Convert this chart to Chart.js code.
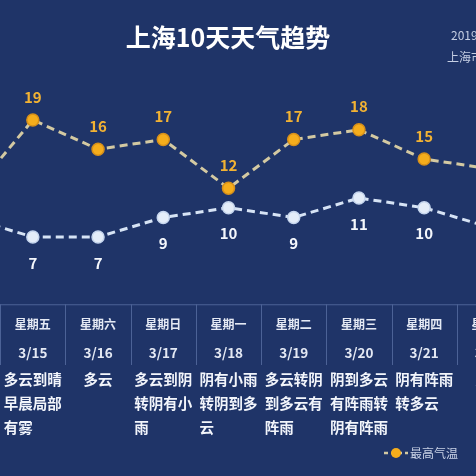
<!DOCTYPE html>
<html>
<head>
<meta charset="utf-8">
<script src="https://cdn.jsdelivr.net/npm/chart.js@4.4.1/dist/chart.umd.min.js"></script>
<style>
  html, body { margin:0; padding:0; width:476px; height:476px; overflow:hidden; background:#1f3468; }
  #wrap { position:relative; width:476px; height:476px; overflow:hidden; }
  #c { position:absolute; left:-65px; top:0; }
</style>
</head>
<body>
<div id="wrap"><canvas id="c" width="600" height="476"></canvas></div>
<script>
const dates = ['3/14','3/15','3/16','3/17','3/18','3/19','3/20','3/21','3/22'];
const weekdays = ['星期四','星期五','星期六','星期日','星期一','星期二','星期三','星期四','星期五'];
const highTemps = [11, 19, 16, 17, 12, 17, 18, 15, 14];
const lowTemps = [9, 7, 7, 9, 10, 9, 11, 10, 8];
const weather = ['多云','多云到晴早晨局部有雾','多云','多云到阴转阴有小雨','阴有小雨转阴到多云','多云转阴到多云有阵雨','阴到多云有阵雨转阴有阵雨','阴有阵雨转多云','多云'];
const titleText = '上海10天天气趋势';
const noteLines = ['2019年3月14日发布','上海市气象台'];
const legendLabels = ['最高气温','最低气温'];

const FONT = '"Noto Sans CJK SC", "Noto Sans", sans-serif';
const OFFSET = 65; // canvas left shift

const tablePlugin = {
  id: 'tablePlugin',
  afterDraw(chart) {
    const ctx = chart.ctx;
    const xs = chart.scales.x;
    const step = xs.getPixelForValue(1) - xs.getPixelForValue(0);
    ctx.save();
    // title
    ctx.fillStyle = '#ffffff';
    ctx.font = 'bold 25px ' + FONT;
    ctx.textAlign = 'center';
    ctx.textBaseline = 'middle';
    ctx.fillText(titleText, 228 + OFFSET, 37);
    // note top right
    ctx.fillStyle = '#c5cee3';
    ctx.font = '12px ' + FONT;
    ctx.textAlign = 'left';
    ctx.fillText(noteLines[0], 451 + OFFSET, 35);
    ctx.fillText(noteLines[1], 447 + OFFSET, 57);

    // value labels
    const mh = chart.getDatasetMeta(0), ml = chart.getDatasetMeta(1);
    ctx.font = 'bold 15px ' + FONT;
    ctx.textAlign = 'center';
    mh.data.forEach((p, i) => {
      ctx.fillStyle = '#f2b233';
      ctx.fillText(String(highTemps[i]), p.x, p.y - 23);
    });
    ml.data.forEach((p, i) => {
      ctx.fillStyle = '#f4f7fc';
      ctx.fillText(String(lowTemps[i]), p.x, p.y + 26);
    });

    // table
    const topY = chart.chartArea.bottom - 1;
    ctx.strokeStyle = '#4c6296';
    ctx.lineWidth = 1;
    ctx.beginPath();
    ctx.moveTo(0, topY + 0.5);
    ctx.lineTo(chart.width, topY + 0.5);
    ctx.stroke();
    for (let i = 0; i <= dates.length; i++) {
      const bx = Math.round(xs.getPixelForValue(i) - step / 2) + 0.5;
      ctx.beginPath();
      ctx.moveTo(bx, topY);
      ctx.lineTo(bx, 365);
      ctx.stroke();
    }
    dates.forEach((d, i) => {
      const cx = xs.getPixelForValue(i);
      ctx.textAlign = 'center';
      ctx.fillStyle = '#e4e9f4';
      ctx.font = 'bold 12px ' + FONT;
      ctx.fillText(weekdays[i], cx, 324);
      ctx.font = 'bold 13.5px ' + FONT;
      ctx.fillText(d, cx, 353);
      // description
      ctx.font = 'bold 14.5px ' + FONT;
      ctx.fillStyle = '#f2f5fb';
      const s = weather[i];
      const lines = [];
      for (let k = 0; k < s.length; k += 4) lines.push(s.slice(k, k + 4));
      let bw = 0;
      lines.forEach(l => { bw = Math.max(bw, ctx.measureText(l).width); });
      ctx.textAlign = 'left';
      lines.forEach((l, j) => ctx.fillText(l, cx - bw / 2, 379 + j * 24));
    });

    // legend
    const ly = 453;
    const items = [
      {x: 384, color: chart.data.datasets[0].pointBackgroundColor, line: chart.data.datasets[0].borderColor, text: legendLabels[0]},
      {x: 492, color: chart.data.datasets[1].pointBackgroundColor, line: chart.data.datasets[1].borderColor, text: legendLabels[1]}
    ];
    items.forEach(it => {
      const x0 = it.x + OFFSET;
      ctx.strokeStyle = it.line;
      ctx.lineWidth = 2.5;
      ctx.setLineDash([4, 3]);
      ctx.beginPath();
      ctx.moveTo(x0, ly);
      ctx.lineTo(x0 + 24, ly);
      ctx.stroke();
      ctx.setLineDash([]);
      ctx.fillStyle = it.color;
      ctx.beginPath();
      ctx.arc(x0 + 12, ly, 5, 0, Math.PI * 2);
      ctx.fill();
      ctx.fillStyle = '#c9d2e6';
      ctx.font = '12px ' + FONT;
      ctx.textAlign = 'left';
      ctx.fillText(it.text, x0 + 26, ly);
    });
    ctx.restore();
  }
};

new Chart(document.getElementById('c'), {
  type: 'line',
  data: {
    labels: dates,
    datasets: [
      {
        label: legendLabels[0],
        data: highTemps,
        borderColor: '#d3c9a2',
        borderWidth: 3,
        borderDash: [8, 5],
        pointBackgroundColor: '#f5ad1c',
        pointBorderColor: '#d7901a',
        pointBorderWidth: 1.5,
        pointRadius: 6,
        tension: 0,
        clip: false
      },
      {
        label: legendLabels[1],
        data: lowTemps,
        borderColor: '#d6e3f5',
        borderWidth: 3,
        borderDash: [8, 5],
        pointBackgroundColor: '#e4edf9',
        pointBorderColor: '#c6d6ee',
        pointBorderWidth: 1.5,
        pointRadius: 6,
        tension: 0,
        clip: false
      }
    ]
  },
  options: {
    responsive: false,
    animation: false,
    devicePixelRatio: 1,
    layout: { autoPadding: false, padding: { left: 0, right: 13, top: 61.5, bottom: 170.75 } },
    plugins: { legend: { display: false }, title: { display: false }, tooltip: { enabled: false } },
    scales: {
      x: { display: false, offset: true },
      y: { display: false, min: 0, max: 25 }
    }
  },
  plugins: [tablePlugin]
});
</script>
</body>
</html>
